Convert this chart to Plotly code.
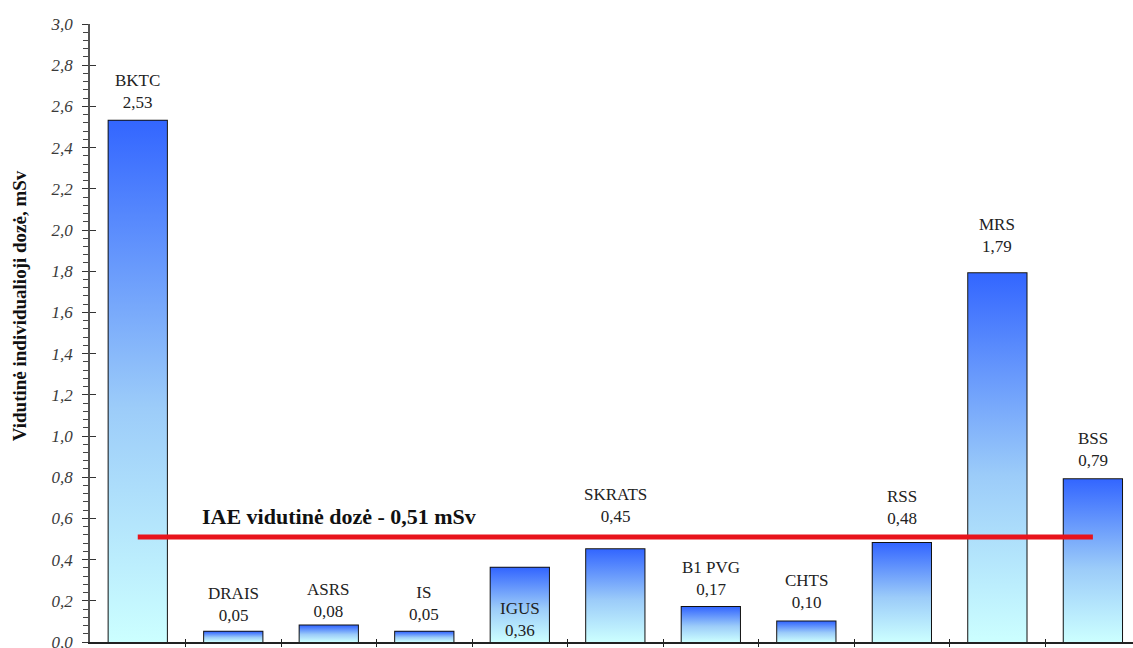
import plotly.graph_objects as go

# Average individual dose per unit, mSv
units = ["BKTC", "DRAIS", "ASRS", "IS", "IGUS", "SKRATS", "B1 PVG", "CHTS", "RSS", "MRS", "BSS"]
doses = [2.53, 0.05, 0.08, 0.05, 0.36, 0.45, 0.17, 0.10, 0.48, 1.79, 0.79]
mean_dose = 0.51
mean_label = "IAE vidutinė dozė - 0,51 mSv"
y_title = "Vidutinė individualioji dozė, mSv"

# label placement (pixels above bar top); None = label sits inside the bar
label_gap = {"BKTC": 7, "DRAIS": 5, "ASRS": 3, "IS": 6, "IGUS": None, "SKRATS": 21,
             "B1 PVG": 6, "CHTS": 7, "RSS": 13, "MRS": 15, "BSS": 7}

SERIF = "Liberation Serif"
BAR_W = 0.61
GRADIENT = [[0.0, "#CCFFFF"], [0.45, "#9CCCF9"], [1.0, "#3366FF"]]

xs = list(range(len(units)))
fig = go.Figure()

# gradient fill of each bar
for x, v in zip(xs, doses):
    fig.add_trace(go.Scatter(
        x=[x - BAR_W / 2, x - BAR_W / 2, x + BAR_W / 2, x + BAR_W / 2, x - BAR_W / 2],
        y=[0, v, v, 0, 0],
        mode="lines", line=dict(width=0), fill="toself",
        fillgradient=dict(type="vertical", colorscale=GRADIENT, start=0, stop=v),
        hoverinfo="skip", showlegend=False,
    ))

# bar outlines
fig.add_trace(go.Bar(
    x=xs, y=doses, width=BAR_W,
    marker=dict(color="rgba(0,0,0,0)", line=dict(color="#111111", width=2)),
    showlegend=False, hoverinfo="skip",
))

# average dose line, drawn on the overlay subplot so it sits above the bars
fig.add_trace(go.Scatter(
    x=[xs[0], xs[-1]], y=[mean_dose, mean_dose], mode="lines",
    line=dict(color="#E8141C", width=5), xaxis="x2", yaxis="y2",
    showlegend=False, hoverinfo="skip",
))

# value labels
for x, name, v in zip(xs, units, doses):
    txt = f"{name}<br>{v:.2f}".replace(".", ",")
    gap = label_gap[name]
    if gap is None:
        fig.add_annotation(x=x, y=0, text=txt, showarrow=False, yanchor="bottom",
                           yshift=0, font=dict(family=SERIF, size=17, color="#222222"))
    else:
        fig.add_annotation(x=x, y=v, text=txt, showarrow=False, yanchor="bottom",
                           yshift=gap, font=dict(family=SERIF, size=17, color="#222222"))

fig.add_annotation(x=0.65, y=mean_dose, text=f"<b>{mean_label}</b>", showarrow=False,
                   xanchor="left", yanchor="bottom", yshift=6,
                   font=dict(family=SERIF, size=22, color="#111111"))

fig.add_annotation(x=-0.068, xref="paper", y=1.63, yref="y", text=f"<b>{y_title}</b>",
                   textangle=-90, showarrow=False, xanchor="center", yanchor="middle",
                   font=dict(family=SERIF, size=19, color="#111111"))

XR = [-0.5, 10.42]
YR = [0, 3.0]
mid_ticks = [i + 0.5 for i in xs]

fig.update_layout(
    width=1133, height=648,
    margin=dict(l=90, r=0, t=24, b=6, autoexpand=False),
    paper_bgcolor="white", plot_bgcolor="white",
    separators=",.",
    showlegend=False,
    xaxis=dict(range=XR, showgrid=False, zeroline=False, showline=True, automargin=False,
               linecolor="#222222", linewidth=1.5,
               tickmode="array", tickvals=mid_ticks, ticks="outside", ticklen=3,
               tickcolor="#222222", showticklabels=False),
    yaxis=dict(range=YR, showgrid=False, zeroline=False, showline=True, automargin=False,
               linecolor="#555555", linewidth=1.5,
               tick0=0, dtick=0.2, tickformat=".1f", ticks="outside", ticklen=6,
               tickcolor="#333333", ticklabelstandoff=6, ticklabeloverflow="allow",
               tickfont=dict(family=SERIF, size=17, style="italic", color="#3a3a3a"),
               minor=dict(ticks="outside", ticklen=5, dtick=0.04, tick0=0,
                          tickcolor="#444444")),
    xaxis2=dict(overlaying="x", anchor="y2", range=XR, showgrid=False, zeroline=False,
                showline=False, automargin=False, tickmode="array", tickvals=mid_ticks,
                ticks="inside", ticklen=3, tickcolor="#222222", showticklabels=False),
    yaxis2=dict(overlaying="y", anchor="x2", range=YR, showgrid=False, zeroline=False,
                showline=False, automargin=False, tick0=0, dtick=0.2, ticks="inside",
                ticklen=6, tickcolor="#333333", showticklabels=False),
)

fig.write_html("out.html")
